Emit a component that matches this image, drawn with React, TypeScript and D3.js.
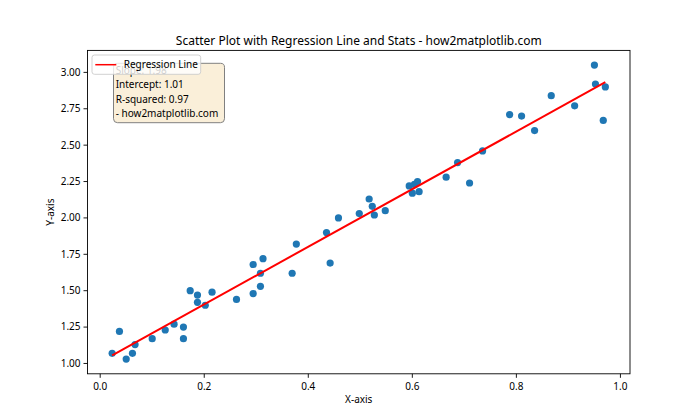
import React from "react";
import * as d3 from "d3";

// scatter points
const xs = [
  0.023, 0.037, 0.05, 0.062, 0.067, 0.1, 0.125, 0.142, 0.16, 0.16, 0.173,
  0.187, 0.187, 0.202, 0.215, 0.262, 0.294, 0.294, 0.308, 0.308, 0.313,
  0.369, 0.377, 0.435, 0.442, 0.458, 0.498, 0.517, 0.523, 0.527, 0.548,
  0.594, 0.6, 0.604, 0.61, 0.613, 0.665, 0.687, 0.71, 0.735, 0.787, 0.81,
  0.835, 0.867, 0.912, 0.95, 0.952, 0.967, 0.971,
];
const ys = [
  1.07, 1.22, 1.03, 1.07, 1.13, 1.17, 1.23, 1.27, 1.17, 1.25, 1.5, 1.47,
  1.42, 1.4, 1.49, 1.44, 1.48, 1.68, 1.53, 1.62, 1.72, 1.62, 1.82, 1.9,
  1.69, 2.0, 2.03, 2.13, 2.08, 2.02, 2.05, 2.22, 2.17, 2.23, 2.25, 2.18,
  2.28, 2.38, 2.24, 2.46, 2.71, 2.7, 2.6, 2.84, 2.77, 3.05, 2.92, 2.67,
  2.9,
];
const slope = 1.98;
const intercept = 1.01;
const rSquared = 0.97;
const statsLines = [
  `Slope: ${slope.toFixed(2)}`,
  `Intercept: ${intercept.toFixed(2)}`,
  `R-squared: ${rSquared.toFixed(2)}`,
  "- how2matplotlib.com",
];
const xTicks = [0, 0.2, 0.4, 0.6, 0.8, 1.0];
const yTicks = [1.0, 1.25, 1.5, 1.75, 2.0, 2.25, 2.5, 2.75, 3.0];

const W = 700;
const H = 420;
const m = { left: 87.5, right: 630, top: 50.4, bottom: 373.8 };
const font = "'Noto Sans', sans-serif";

function pad([a, b]: [number, number]): [number, number] {
  const d = (b - a) * 0.05;
  return [a - d, b + d];
}

export default function App() {
  const x = d3
    .scaleLinear()
    .domain(pad(d3.extent(xs) as [number, number]))
    .range([m.left, m.right]);
  const y = d3
    .scaleLinear()
    .domain(pad(d3.extent(ys) as [number, number]))
    .range([m.bottom, m.top]);

  const [x0, x1] = d3.extent(xs) as [number, number];
  const line = d3
    .line<number>()
    .x((d) => x(d))
    .y((d) => y(slope * d + intercept));

  return (
    <svg width={W} height={H} style={{ position: "absolute", left: 0, top: 0 }}>
      <rect width={W} height={H} fill="#fff" />
      <text
        x={(m.left + m.right) / 2}
        y={45}
        textAnchor="middle"
        fontFamily={font}
        fontSize={12}
      >
        Scatter Plot with Regression Line and Stats - how2matplotlib.com
      </text>

      {xs.map((d, i) => (
        <circle key={i} cx={x(d)} cy={y(ys[i])} r={3.6} fill="#1f77b4" />
      ))}
      <path d={line([x0, x1]) || ""} stroke="red" strokeWidth={2} fill="none" />

      <rect
        x={m.left}
        y={m.top}
        width={m.right - m.left}
        height={m.bottom - m.top}
        fill="none"
        stroke="#000"
        strokeWidth={0.9}
      />

      {xTicks.map((t) => (
        <g key={t} transform={`translate(${x(t)},${m.bottom})`}>
          <line y2={4} stroke="#000" strokeWidth={0.9} />
          <text
            y={16}
            textAnchor="middle"
            fontFamily={font}
            fontSize={10}
          >
            {t.toFixed(1)}
          </text>
        </g>
      ))}
      {yTicks.map((t) => (
        <g key={t} transform={`translate(${m.left},${y(t)})`}>
          <line x2={-4} stroke="#000" strokeWidth={0.9} />
          <text
            x={-7}
            dy="0.34em"
            textAnchor="end"
            fontFamily={font}
            fontSize={10}
          >
            {t.toFixed(2)}
          </text>
        </g>
      ))}
      <text
        x={(m.left + m.right) / 2}
        y={403}
        textAnchor="middle"
        fontFamily={font}
        fontSize={10}
      >
        X-axis
      </text>
      <text
        transform={`translate(54,${(m.top + m.bottom) / 2}) rotate(-90)`}
        textAnchor="middle"
        fontFamily={font}
        fontSize={10}
      >
        Y-axis
      </text>

      {/* stats box, partly hidden by the legend as in the original */}
      <rect
        x={113.5}
        y={63.3}
        width={111}
        height={59.4}
        rx={4}
        fill="#faefd9"
        stroke="#808080"
        strokeWidth={1}
      />
      {statsLines.map((s, i) => (
        <text
          key={i}
          x={115.7}
          y={74 + i * 14.3}
          fontFamily={font}
          fontSize={10}
        >
          {s}
        </text>
      ))}

      {/* legend */}
      <rect
        x={92}
        y={55}
        width={108.7}
        height={19.3}
        rx={2.5}
        fill="#fff"
        fillOpacity={0.8}
        stroke="#ccc"
        strokeWidth={0.9}
      />
      <line x1={95.3} x2={116.3} y1={64.7} y2={64.7} stroke="red" strokeWidth={1.5} />
      <text x={123.7} y={68.3} fontFamily={font} fontSize={10}>
        Regression Line
      </text>
    </svg>
  );
}
